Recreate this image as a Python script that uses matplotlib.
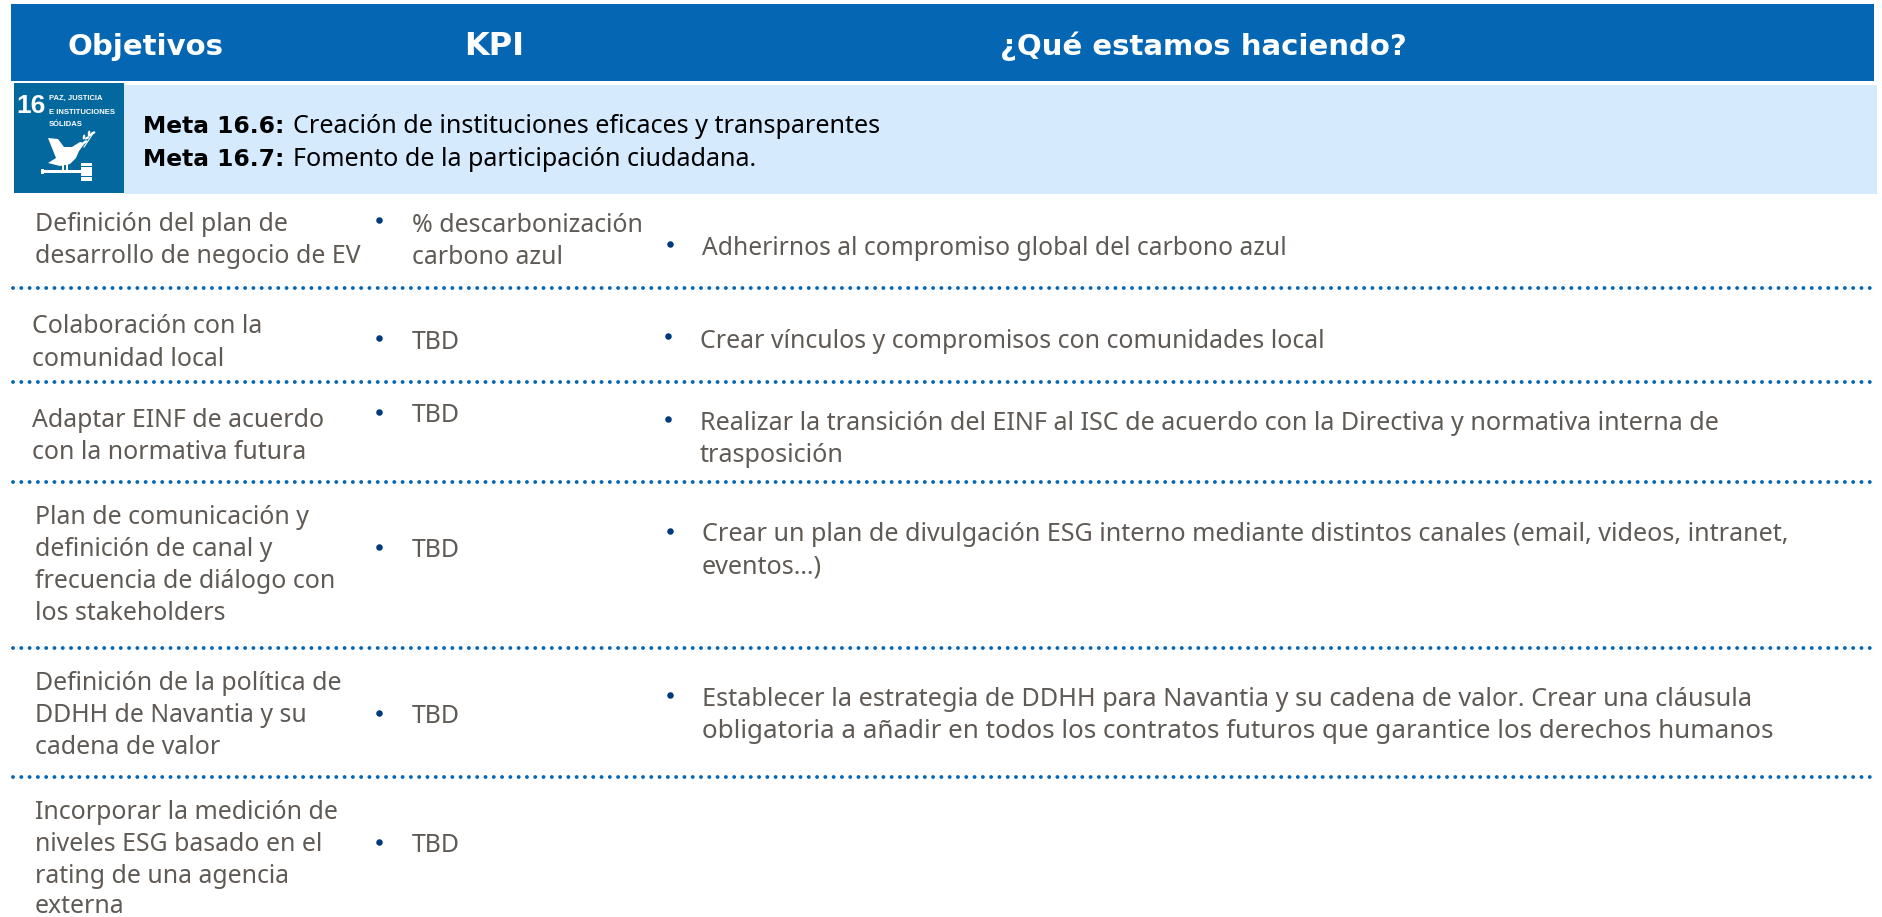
import matplotlib
matplotlib.use("Agg")
import matplotlib.pyplot as plt
from matplotlib.patches import Rectangle, Polygon, Ellipse

headers = ["Objetivos", "KPI", "¿Qué estamos haciendo?"]
meta_labels = ["Meta 16.6:", "Meta 16.7:"]
meta_texts = ["Creación de instituciones eficaces y transparentes",
              "Fomento de la participación ciudadana."]
objectives = [
    ["Definición del plan de", "desarrollo de negocio de EV"],
    ["Colaboración con la", "comunidad local"],
    ["Adaptar EINF de acuerdo", "con la normativa futura"],
    ["Plan de comunicación y", "definición de canal y", "frecuencia de diálogo con", "los stakeholders"],
    ["Definición de la política de", "DDHH de Navantia y su", "cadena de valor"],
    ["Incorporar la medición de", "niveles ESG basado en el", "rating de una agencia", "externa"],
]
kpis = [["% descarbonización", "carbono azul"], ["TBD"], ["TBD"], ["TBD"], ["TBD"], ["TBD"]]
actions = [
    ["Adherirnos al compromiso global del carbono azul"],
    ["Crear vínculos y compromisos con comunidades local"],
    ["Realizar la transición del EINF al ISC de acuerdo con la Directiva y normativa interna de", "trasposición"],
    ["Crear un plan de divulgación ESG interno mediante distintos canales (email, videos, intranet,", "eventos…)"],
    ["Establecer la estrategia de DDHH para Navantia y su cadena de valor. Crear una cláusula",
     "obligatoria a añadir en todos los contratos futuros que garantice los derechos humanos"],
    [],
]
sdg_number = "16"
sdg_lines = ["PAZ, JUSTICIA", "E INSTITUCIONES", "SÓLIDAS"]

# layout (pixels)
W, H = 1883, 917
BLUE, LIGHT, SDG, GREY, NAVY = "#0567B3", "#D6EAFE", "#02689D", "#5F5A55", "#003A7D"
BODY_FONT = "Noto Sans"
FS = 17.9
obj_x = [35, 32, 32, 35, 35, 35]
obj_y = [[231, 263], [333, 366], [427, 459], [524, 556, 588, 620], [690, 722, 754], [819, 851, 883, 913]]
kpi_y = [[232, 264], [349], [422], [557], [723], [852]]
kpi_bullet_y = [220, 338, 412, 547, 713, 842]
act_x = [702, 700, 700, 702, 702, 702]
act_y = [[255], [348], [430, 462], [541, 573], [706, 738], []]
act_fs = [[17.7], [17.9], [18.1, 18.1], [18.1, 18.1], [18.2, 18.7], []]
act_bullet_y = [244, 336, 419, 531, 695, None]
act_bullet_x = [670, 668, 668, 670, 670, 670]
sep_y = [288, 382, 482, 648, 777]

fig = plt.figure(figsize=(W / 100, H / 100), dpi=100)
ax = fig.add_axes([0, 0, 1, 1])
ax.set_xlim(0, W); ax.set_ylim(H, 0); ax.axis("off")

ax.add_patch(Rectangle((11, 4), 1863, 77, fc=BLUE, ec="none"))
ax.add_patch(Rectangle((124, 85), 1753, 109, fc=LIGHT, ec="none"))
ax.add_patch(Rectangle((14, 83), 110, 110, fc=SDG, ec="none"))

for label, x, fs in zip(headers, [146, 494, 1203], [21, 23, 21]):
    ax.text(x, 55, label, color="white", fontsize=fs, fontweight="bold", ha="center", va="baseline",
            family="DejaVu Sans")

# SDG icon
ax.text(31, 113, sdg_number, color="white", fontsize=19, fontweight="bold", ha="center", va="baseline",
        family="Liberation Sans")
for t, y in zip(sdg_lines, [100, 113.5, 126.5]):
    ax.text(49, y, t, color="white", fontsize=5.5, fontweight="bold", ha="left", va="baseline",
            family="Liberation Sans")
ax.add_patch(Polygon([(48, 138), (58, 139), (64, 147), (72, 147), (80, 142), (85, 143), (79, 151),
                      (76, 158), (70, 164), (60, 166), (48, 163), (56, 158), (52, 148)],
                     fc="white", ec="none"))
for x0, y0, a in [(85, 142, 30), (87, 138, 30), (90, 135, 30), (93, 133, 20), (84, 137, 80), (89, 133, 80)]:
    ax.add_patch(Ellipse((x0, y0), 5, 2.4, angle=-a, fc="white", ec="none"))
ax.plot([84, 94], [147, 132], color="white", lw=0.8)
ax.add_patch(Rectangle((62, 164), 2, 7, fc="white", ec="none"))
ax.add_patch(Rectangle((66, 164), 2, 7, fc="white", ec="none"))
ax.add_patch(Rectangle((41, 170), 40, 3, fc="white", ec="none"))
ax.add_patch(Rectangle((41, 169), 3, 5, fc="white", ec="none"))
ax.add_patch(Rectangle((81, 163), 11, 18, fc="white", ec="none"))
ax.add_patch(Rectangle((80, 166), 13, 1, fc=SDG, ec="none"))
ax.add_patch(Rectangle((80, 176), 13, 1, fc=SDG, ec="none"))

# meta band
for lab, txt, y in zip(meta_labels, meta_texts, [133, 166]):
    ax.text(143, y, lab, color="black", fontsize=16.8, fontweight="bold", va="baseline", family="DejaVu Sans")
    ax.text(293, y, txt, color="black", fontsize=18.1, va="baseline", family=BODY_FONT)

# rows
for lines, x, ys in zip(objectives, obj_x, obj_y):
    for s, y in zip(lines, ys):
        ax.text(x, y, s, color=GREY, fontsize=FS, va="baseline", family=BODY_FONT)
for lines, ys, by in zip(kpis, kpi_y, kpi_bullet_y):
    ax.scatter([379], [by], s=22, color=NAVY, linewidths=0, zorder=3)
    for s, y in zip(lines, ys):
        ax.text(412, y, s, color=GREY, fontsize=FS, va="baseline", family=BODY_FONT)
for lines, x, ys, sizes, bx, by in zip(actions, act_x, act_y, act_fs, act_bullet_x, act_bullet_y):
    if by is not None:
        ax.scatter([bx], [by], s=22, color=NAVY, linewidths=0, zorder=3)
    for s, y, fs in zip(lines, ys, sizes):
        ax.text(x, y, s, color=GREY, fontsize=fs, va="baseline", family=BODY_FONT)

# dot pitch 8.25 px, dot diameter 3.9 px
dot_lw = 3.9 * 0.72
for y in sep_y:
    ax.plot([13, 1878], [y, y], color=BLUE, lw=dot_lw, ls=(0, (0.01, 8.25 * 0.72 / dot_lw)),
            dash_capstyle="round")

fig.savefig("out.png", dpi=100, facecolor="white")
